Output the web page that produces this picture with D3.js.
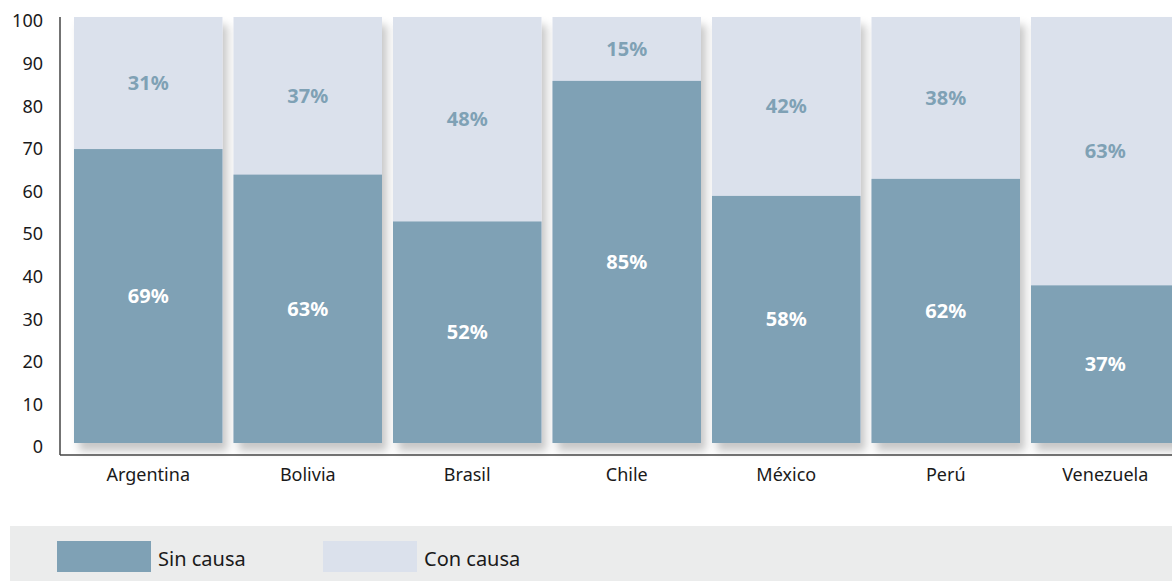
<!DOCTYPE html>
<html>
<head>
<meta charset="utf-8">
<script src="https://cdn.jsdelivr.net/npm/d3@7"></script>
<style>
	body { margin: 0; background: #fff; overflow: hidden; }
	svg { display: block; font-family: "Noto Sans", sans-serif; }
</style>
</head>
<body>
<svg id="chart" width="1172" height="581"></svg>
<script>
	'use strict';

	var countries = ['Argentina', 'Bolivia', 'Brasil', 'Chile', 'México', 'Perú', 'Venezuela'];
	var sinCausa = [69, 63, 52, 85, 58, 62, 37];
	var conCausa = [31, 37, 48, 15, 42, 38, 63];
	var yTicks = [0, 10, 20, 30, 40, 50, 60, 70, 80, 90, 100];
	var seriesNames = ['Sin causa', 'Con causa'];
	var colors = ['#7fa1b5', '#dbe1ec'];

	var svg = d3.select('#chart');

	var defs = svg.append('defs');
	var filter = defs.append('filter')
		.attr('id', 'shadow')
		.attr('x', '-10%').attr('y', '-10%')
		.attr('width', '130%').attr('height', '130%');
	filter.append('feDropShadow')
		.attr('dx', 5).attr('dy', 8)
		.attr('stdDeviation', 4)
		.attr('flood-color', '#000')
		.attr('flood-opacity', 0.22);

	// Scales
	var x = d3.scaleBand()
		.domain(countries)
		.range([68.5, 1185])
		.paddingInner(0.069)
		.paddingOuter(0.0345);
	var y = d3.scaleLinear().domain([0, 100]).range([443, 17]);

	var data = countries.map(function(c, i) {
		return { name: c, sin: sinCausa[i], con: conCausa[i] };
	});

	// Bars
	var groups = svg.append('g').selectAll('g')
		.data(data)
		.enter().append('g')
		.attr('transform', function(d) { return 'translate(' + x(d.name) + ',0)'; });

	groups.append('rect')
		.attr('filter', 'url(#shadow)')
		.attr('x', 0)
		.attr('y', y(100))
		.attr('width', x.bandwidth())
		.attr('height', y(0) - y(100))
		.attr('fill', colors[1]);

	groups.append('rect')
		.attr('x', 0)
		.attr('y', function(d) { return y(d.sin); })
		.attr('width', x.bandwidth())
		.attr('height', function(d) { return y(0) - y(d.sin); })
		.attr('fill', colors[0]);

	// Value labels
	groups.append('text')
		.attr('x', x.bandwidth() / 2)
		.attr('y', function(d) { return y(d.sin / 2); })
		.attr('dy', '0.35em')
		.attr('text-anchor', 'middle')
		.attr('fill', '#fff')
		.style('font-weight', 'bold')
		.style('font-size', '20px')
		.text(function(d) { return d.sin + '%'; });

	groups.append('text')
		.attr('x', x.bandwidth() / 2)
		.attr('y', function(d) { return y(d.sin + d.con / 2); })
		.attr('dy', '0.35em')
		.attr('text-anchor', 'middle')
		.attr('fill', colors[0])
		.style('font-weight', 'bold')
		.style('font-size', '20px')
		.text(function(d) { return d.con + '%'; });

	// Axes
	var yAxis = svg.append('g')
		.attr('transform', 'translate(60,0)')
		.call(d3.axisLeft(y).tickValues(yTicks).tickSize(0).tickPadding(17));
	yAxis.select('.domain').remove();
	yAxis.selectAll('text')
		.attr('dy', '0.55em')
		.style('font-size', '18px')
		.style('font-family', '"Noto Sans", sans-serif')
		.attr('fill', '#1a1a1a');

	svg.append('line')
		.attr('x1', 60).attr('x2', 60)
		.attr('y1', 17).attr('y2', 455)
		.attr('stroke', '#444').attr('stroke-width', 1.5);

	var xAxis = svg.append('g')
		.attr('transform', 'translate(0,455)')
		.call(d3.axisBottom(x).tickSize(0).tickPadding(13));
	xAxis.select('.domain').remove();
	xAxis.selectAll('text')
		.style('font-size', '18px')
		.style('font-family', '"Noto Sans", sans-serif')
		.attr('fill', '#1a1a1a');

	svg.append('line')
		.attr('x1', 60).attr('x2', 1172)
		.attr('y1', 455).attr('y2', 455)
		.attr('stroke', '#444').attr('stroke-width', 1.5);

	// Legend
	svg.append('rect')
		.attr('x', 10).attr('y', 526)
		.attr('width', 1162).attr('height', 55)
		.attr('fill', '#ebecec');

	var legendX = [57, 323];
	var legend = svg.append('g').selectAll('g')
		.data(seriesNames)
		.enter().append('g')
		.attr('transform', function(d, i) { return 'translate(' + legendX[i] + ',541)'; });
	legend.append('rect')
		.attr('width', 94).attr('height', 31)
		.attr('fill', function(d, i) { return colors[i]; });
	legend.append('text')
		.attr('x', 101).attr('y', 17)
		.attr('dy', '0.38em')
		.style('font-size', '20px')
		.attr('fill', '#1a1a1a')
		.text(function(d) { return d; });
</script>
</body>
</html>
